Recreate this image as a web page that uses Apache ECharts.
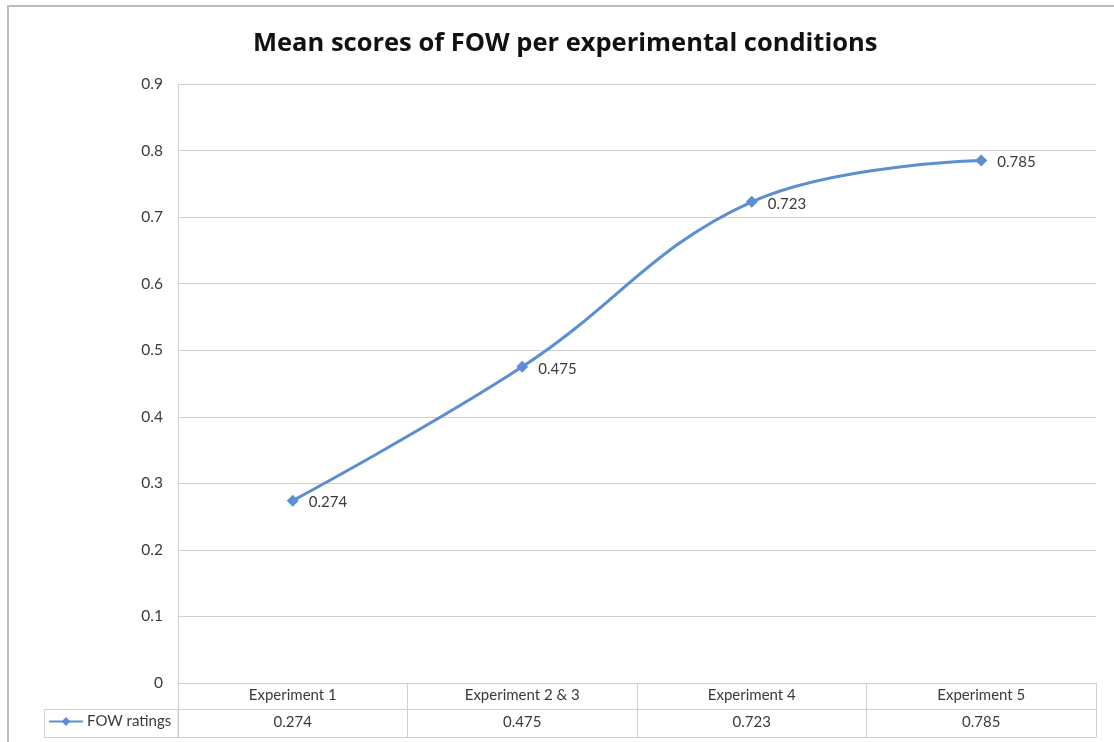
<!DOCTYPE html>
<html>
<head>
<meta charset="utf-8">
<script src="https://cdn.jsdelivr.net/npm/echarts@6/dist/echarts.min.js"></script>
<style>
  html, body { margin: 0; padding: 0; background: #fff; }
  #chart { width: 1114px; height: 742px; }
</style>
</head>
<body>
<div id="chart"></div>
<script>
// Experimental conditions and mean FOW scores
const categories = ['Experiment 1', 'Experiment 2 & 3', 'Experiment 4', 'Experiment 5'];
const fowRatings = [0.274, 0.475, 0.723, 0.785];
const seriesName = 'FOW ratings';
const yTicks = { min: 0, max: 0.9, interval: 0.1 };

const lineColor = '#5b8fd1';
const gridColor = '#cfcfcf';
const textColor = '#3a3a3a';
const fontFamily = 'Lato, "Open Sans", "Noto Sans", sans-serif';

// Data-table row: the values shown beneath each category
const tableValues = fowRatings.map(v => v.toFixed(3));

const chart = echarts.init(document.getElementById('chart'));
chart.setOption({
  animation: false,
  backgroundColor: '#fff',
  title: {
    text: 'Mean scores of FOW per experimental conditions',
    left: 248,
    top: 26,
    textStyle: { fontFamily: '"Open Sans", Lato, sans-serif', fontSize: 25.5, fontWeight: 'bold', color: '#111' }
  },
  legend: {
    data: [seriesName],
    left: 48,
    top: 714,
    padding: 0,
    itemWidth: 34,
    itemHeight: 11,
    itemGap: 4,
    textStyle: { fontFamily, fontSize: 15, color: textColor, padding: [0, 0, 0, -1] }
  },
  grid: { left: 178, right: 18, top: 84, bottom: 59, containLabel: false },
  xAxis: [
    {
      type: 'category',
      data: categories,
      position: 'bottom',
      axisLine: { lineStyle: { color: gridColor, width: 1 } },
      axisTick: { show: true, length: 26, lineStyle: { color: gridColor } },
      axisLabel: { margin: 5, fontFamily, fontSize: 15, color: textColor },
      splitLine: { show: false }
    },
    {
      type: 'category',
      data: tableValues,
      position: 'bottom',
      offset: 26,
      axisLine: { lineStyle: { color: gridColor, width: 1 } },
      axisTick: { show: true, length: 28, lineStyle: { color: gridColor } },
      axisLabel: { margin: 6, fontFamily, fontSize: 15, color: textColor },
      splitLine: { show: false }
    },
    {
      type: 'category',
      data: categories,
      position: 'bottom',
      offset: 54,
      axisLine: { lineStyle: { color: gridColor, width: 1 } },
      axisTick: { show: false },
      axisLabel: { show: false },
      splitLine: { show: false }
    }
  ],
  yAxis: {
    type: 'value',
    min: yTicks.min,
    max: yTicks.max,
    interval: yTicks.interval,
    axisLine: { show: true, lineStyle: { color: gridColor } },
    axisTick: { show: false },
    axisLabel: {
      margin: 15,
      fontFamily,
      fontSize: 15.5,
      color: textColor,
      formatter: v => (Math.round(v * 10) / 10).toString()
    },
    splitLine: { lineStyle: { color: gridColor, width: 1 } }
  },
  series: [
    {
      name: seriesName,
      type: 'line',
      xAxisIndex: 0,
      data: fowRatings,
      smooth: 0.4,
      symbol: 'diamond',
      symbolSize: 12,
      lineStyle: { color: lineColor, width: 3 },
      itemStyle: { color: lineColor },
      label: {
        show: true,
        position: 'right',
        distance: 10,
        offset: [0, 2],
        fontFamily,
        fontSize: 15,
        color: textColor,
        formatter: p => p.value.toFixed(3)
      }
    }
  ],
  graphic: [
    // outer chart-area frame
    {
      type: 'rect',
      shape: { x: 8, y: 6, width: 1200, height: 800 },
      style: { fill: 'none', stroke: '#bcbcbc', lineWidth: 2 },
      silent: true
    },
    // legend key cell of the data table
    {
      type: 'rect',
      shape: { x: 44.5, y: 709.5, width: 133.5, height: 28 },
      style: { fill: 'none', stroke: gridColor, lineWidth: 1 },
      silent: true
    }
  ]
});
</script>
</body>
</html>
